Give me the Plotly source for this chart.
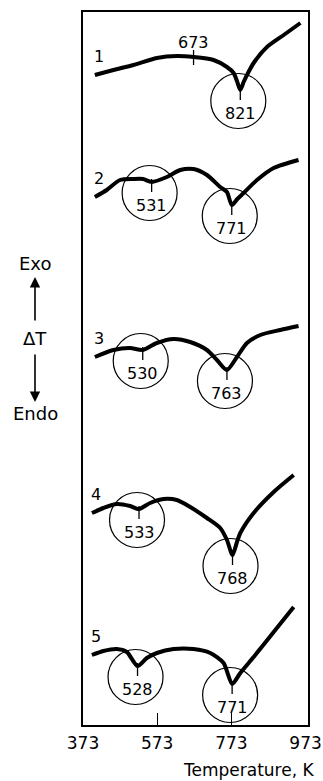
import plotly.graph_objects as go

# ---------------- data ----------------
x_ticks = [373, 573, 773, 973]
x_ticks_marked = [573, 773]

curve_names = ["1", "2", "3", "4", "5"]

t1 = [405, 455, 509, 572, 626, 671, 725, 761, 779, 788, 797, 806, 815, 833, 869, 914, 959]
d1 = [650, 655, 660, 667, 669, 668, 665, 658, 652, 644, 635, 643, 650, 662, 678, 690, 702]

t2 = [405, 437, 473, 509, 535, 558, 599, 635, 671, 707, 743, 761, 774, 789, 806, 842, 887, 954]
d2 = [528, 535, 545, 546, 546, 543, 548, 555, 556, 550, 538, 533, 520, 526, 532, 545, 557, 565]

t3 = [405, 455, 500, 534, 572, 617, 662, 707, 734, 761, 788, 815, 851, 905, 954]
d3 = [368, 375, 377, 375, 382, 386, 383, 375, 365, 355, 368, 382, 390, 395, 399]

t4 = [397, 428, 464, 500, 524, 554, 590, 626, 662, 707, 743, 761, 776, 788, 797, 833, 887, 941]
d4 = [212, 217, 221, 219, 216, 222, 226, 225, 218, 207, 197, 185, 170, 183, 192, 212, 233, 250]

t5 = [397, 428, 464, 491, 520, 545, 572, 617, 671, 716, 752, 775, 797, 833, 887, 941]
d5 = [70, 74, 76, 73, 59, 67, 72, 76, 76, 72, 62, 41, 52, 68, 93, 118]

# circled peaks: position on curve and printed value
peak_t = [797, 558, 774, 534, 761, 524, 776, 520, 775]
peak_d = [635, 543, 520, 375, 355, 216, 170, 59, 41]
peak_text = ["821", "531", "771", "530", "763", "533", "768", "528", "771"]

# uncircled mark on curve 1
mark_t = [671]
mark_d = [668]
mark_text = ["673"]

# ---------------- layout constants ----------------
W, H = 323, 781
ML, MR, MT, MB = 83, 15, 12, 56
XR = [373, 979.5]
YR = [0, 713]
plot_w = W - ML - MR
plot_h = H - MT - MB
KPX = (XR[1] - XR[0]) / plot_w   # K per pixel
YPX = (YR[1] - YR[0]) / plot_h   # y units per pixel

FONT = "DejaVu Sans"
curves_t = [t1, t2, t3, t4, t5]
curves_d = [d1, d2, d3, d4, d5]

fig = go.Figure()

for name, tt, dd in zip(curve_names, curves_t, curves_d):
    fig.add_trace(go.Scatter(
        x=tt, y=dd, mode="lines",
        line=dict(color="black", width=4, shape="spline", smoothing=0.7),
        hoverinfo="skip", showlegend=False))

# circles around peaks
fig.add_trace(go.Scatter(
    x=[t - 2 * KPX for t in peak_t],
    y=[d - 11 * YPX for d in peak_d],
    mode="markers",
    marker=dict(symbol="circle-open", size=55, color="black", line=dict(width=1.2)),
    hoverinfo="skip", showlegend=False))

# small vertical marks at peaks
tx, ty = [], []
for t, d in zip(peak_t, peak_d):
    tx += [t, t, None]
    ty += [d + 3 * YPX, d - 10 * YPX, None]
for t, d in zip(mark_t, mark_d):
    tx += [t, t, None]
    ty += [d + 7 * YPX, d - 8 * YPX, None]
fig.add_trace(go.Scatter(x=tx, y=ty, mode="lines",
                         line=dict(color="black", width=1.3),
                         hoverinfo="skip", showlegend=False))

# invisible trace so the overlay axis carrying the inner ticks is drawn
fig.add_trace(go.Scatter(x=x_ticks_marked, y=[None, None], xaxis="x2", mode="lines",
                         hoverinfo="skip", showlegend=False))

# labels
for t, d, s in zip(peak_t, peak_d, peak_text):
    fig.add_annotation(x=t, y=d, text=s, showarrow=False, xshift=0, yshift=-23,
                       font=dict(family=FONT, size=16, color="black"))
for t, d, s in zip(mark_t, mark_d, mark_text):
    fig.add_annotation(x=t, y=d, text=s, showarrow=False, yshift=15,
                       font=dict(family=FONT, size=16, color="black"))
for name, tt, dd in zip(curve_names, curves_t, curves_d):
    fig.add_annotation(x=tt[0], y=dd[0], text=name, showarrow=False,
                       xshift=4, yshift=19,
                       font=dict(family=FONT, size=16, color="black"))

# left Exo / ΔT / Endo legend
def py2paper(py):
    return (H - MB - py) / plot_h

xl = (35 - ML) / plot_w
for s, py in [("Exo", 263), ("\u0394T", 338), ("Endo", 413)]:
    fig.add_annotation(xref="paper", yref="paper", x=xl, y=py2paper(py), text=s,
                       xanchor="center", yanchor="middle",
                       showarrow=False, font=dict(family=FONT, size=18, color="black"))
fig.add_annotation(xref="paper", yref="paper", x=xl, y=py2paper(277),
                   ax=0, ay=45, text="",
                   showarrow=True, arrowhead=2, arrowsize=1.3, arrowwidth=1.6,
                   arrowcolor="black")
fig.add_annotation(xref="paper", yref="paper", x=xl, y=py2paper(402),
                   ax=0, ay=-49, text="",
                   showarrow=True, arrowhead=2, arrowsize=1.3, arrowwidth=1.6,
                   arrowcolor="black")

fig.add_annotation(xref="paper", yref="paper", x=(316 - ML) / plot_w, y=py2paper(770),
                   xanchor="right", yanchor="middle", text="Temperature, K",
                   showarrow=False, font=dict(family=FONT, size=17, color="black"))

fig.update_layout(
    width=W, height=H, autosize=False,
    margin=dict(l=ML, r=MR, t=MT, b=MB, pad=0, autoexpand=False),
    paper_bgcolor="white", plot_bgcolor="white",
    font=dict(family=FONT, size=17, color="black"),
    xaxis=dict(range=XR, tickvals=x_ticks, ticktext=[str(v) for v in x_ticks],
               ticks="", showgrid=False, zeroline=False, showline=True,
               linecolor="black", linewidth=1.5, mirror=True, automargin=False,
               tickfont=dict(family=FONT, size=17, color="black"),
               ticklabelstandoff=2),
    xaxis2=dict(range=XR, overlaying="x", anchor="y", side="bottom",
                tickvals=x_ticks_marked, ticks="inside", ticklen=12, tickwidth=1.3,
                tickcolor="black", showticklabels=False, showgrid=False,
                zeroline=False, showline=False, automargin=False),
    yaxis=dict(range=YR, showticklabels=False, ticks="", showgrid=False,
               zeroline=False, showline=True, linecolor="black", linewidth=1.5,
               mirror=True, automargin=False),
)

post = ("document.body.style.margin='0';document.body.style.padding='0';"
        "document.body.style.overflow='hidden';"
        "document.documentElement.style.overflow='hidden';"
        "var gd=document.getElementById('{plot_id}');"
        "Plotly.relayout(gd,{width:323,height:781});")
fig.write_html("out.html", config=dict(responsive=False, displayModeBar=False),
               post_script=post)
